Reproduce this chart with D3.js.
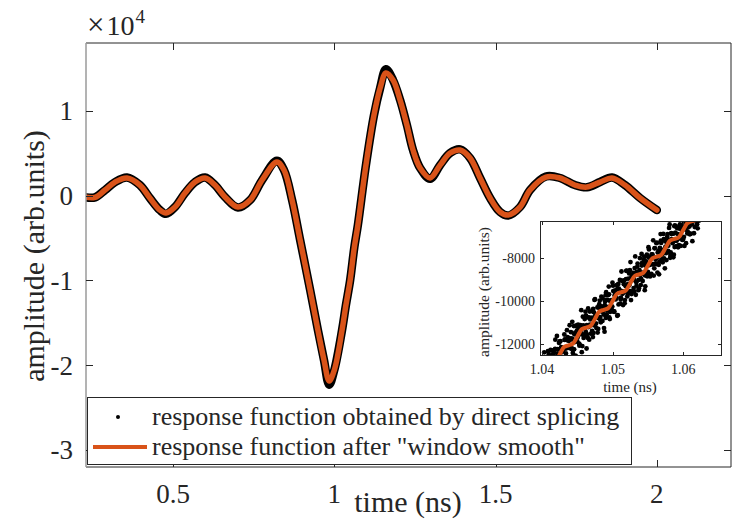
<!DOCTYPE html>
<html><head><meta charset="utf-8">
<script src="https://cdn.jsdelivr.net/npm/d3@7"></script>
<style>
html,body{margin:0;padding:0;background:#fff;}
svg text{font-family:"Liberation Serif","Times New Roman",serif;fill:#262626;}
</style></head>
<body><svg id="c" width="742" height="526"></svg>
<script>
// ---------- data ----------
const mainTimes = [0.230,0.258,0.289,0.320,0.357,0.397,0.428,0.459,0.478,0.506,0.537,0.568,0.599,0.630,0.661,0.701,0.739,0.776,0.822,0.844,0.869,0.894,0.925,0.949,0.968,0.984,1.000,1.024,1.036,1.049,1.062,1.073,1.098,1.123,1.142,1.160,1.182,1.204,1.225,1.244,1.266,1.297,1.328,1.359,1.390,1.421,1.452,1.483,1.514,1.539,1.576,1.607,1.656,1.700,1.746,1.783,1.824,1.861,1.901,1.948,2.000];
const smoothValues = [-200,-200,660,1600,2080,1250,-280,-1700,-2050,-1340,300,1600,2080,1250,-165,-1340,-520,1840,3960,3020,-520,-5240,-11130,-15850,-19390,-21860,-20560,-15850,-12900,-10000,-6100,-3470,3600,9500,12690,14460,13630,11270,8330,5380,3250,2080,3600,5020,5380,4430,2080,-280,-1930,-2290,-1340,660,2190,2080,1250,1010,1600,2080,1250,-280,-1700];
const rawValues = [-200,-200,660,1600,2150,1250,-280,-1700,-2150,-1340,300,1600,2150,1250,-165,-1400,-520,1840,4100,3020,-520,-5240,-11130,-15850,-19390,-22300,-20560,-15850,-12900,-10000,-6100,-3470,3600,9500,12690,14900,13630,11270,8330,5380,3250,2000,3600,5020,5450,4430,2080,-280,-1930,-2350,-1340,660,2250,2080,1250,980,1600,2150,1250,-280,-1700];

const mainXTicks = [0.5, 1, 1.5, 2];
const mainXTickLabels = ["0.5", "1", "1.5", "2"];
const mainYTicks = [10000, 0, -10000, -20000, -30000];
const mainYTickLabels = ["1", "0", "-1", "-2", "-3"];

const insetSmoothTimes = [1.040000,1.040625,1.041250,1.041875,1.042500,1.043125,1.043750,1.044375,1.045000,1.045625,1.046250,1.046875,1.047500,1.048125,1.048750,1.049375,1.050000,1.050625,1.051250,1.051875,1.052500,1.053125,1.053750,1.054375,1.055000,1.055625,1.056250,1.056875,1.057500,1.058125,1.058750,1.059375,1.060000,1.060625,1.061250,1.061875,1.062500];
const insetSmoothValues = [-13300,-12964,-12888,-12811,-12475,-12139,-12063,-11986,-11650,-11314,-11238,-11161,-10825,-10489,-10413,-10336,-10000,-9664,-9588,-9511,-9175,-8839,-8763,-8686,-8350,-8014,-7938,-7861,-7525,-7189,-7113,-7036,-6700,-6364,-6288,-6211,-5875];

// raw samples in the inset: three interleaved sampling passes
const insetDotStarts = [1.0400, 1.0400375, 1.040075];
const insetDotStep = 0.00015;
const insetDotValuesA = [
-12980,-13790,-12390,-13270,-12640,-13930,-12850,-13280,-12280,-12910,
-13530,-12370,-12670,-13110,-11630,-12770,-11950,-13100,-12150,-13290,
-12210,-11560,-12590,-12180,-11680,-12850,-11130,-12210,-11740,-12420,
-11170,-11910,-12580,-11370,-11100,-11990,-11460,-10430,-12100,-11140,
-11630,-10500,-12210,-10760,-11210,-10490,-11520,-10780,-11680,-10530,
-9920,-11050,-10710,-11300,-10150,-10750,-9800,-10930,-10310,-11430,
-9730,-10630,-9950,-9330,-10840,-10030,-10260,-9290,-10510,-9510,
-9870,-10690,-9210,-9480,-10120,-8630,-9670,-9080,-10110,-9310,
-8590,-9680,-9280,-8570,-9960,-8790,-8900,-9550,-7930,-9130,
-8400,-9500,-8570,-8790,-7810,-9070,-8190,-9500,-8360,-7840,
-8650,-7600,-8860,-7950,-8300,-7180,-8480,-7970,-7310,-8680,
-7660,-8160,-6890,-7770,-8200,-7130,-8480,-7180,-7350,-7670,
-6600,-7990,-6840,-7220,-7970,-6520,-6820,-7450,-5970,-7100,
-6500,-7440,-6710,-5920,-7020,-6470,-7310,-6000,-6550,-5740,
-6870,-6060,-7220,-5790,-6150,-5410,-6360,-6620,-5630,-5040,-6040];
const insetDotValuesC = [
-13080,-13570,-13100,-13620,-12720,-13190,-12470,-13200,-12850,-13430,
-12490,-12810,-12230,-13050,-12440,-13090,-12250,-11870,-12590,-12230,
-12680,-11810,-12220,-11820,-12700,-11860,-12120,-11450,-12210,-11790,
-12250,-11470,-11140,-11880,-11600,-12080,-11120,-11550,-11170,-11720,
-10840,-11430,-11130,-11720,-10760,-11100,-10810,-11390,-10370,-11140,
-10680,-11260,-10300,-10800,-10350,-10910,-10490,-9880,-10630,-10200,
-10790,-9950,-10280,-9690,-10510,-9960,-10270,-9540,-10490,-9650,
-9840,-9410,-10160,-9520,-9930,-9060,-9630,-9220,-9960,-8980,
-9510,-9210,-8720,-9540,-8900,-9570,-8690,-9030,-8750,-9290,
-8260,-9020,-8690,-9260,-8350,-8710,-8090,-8810,-8340,-8850,
-7960,-8300,-8030,-8740,-7830,-8290,-7550,-8070,-8290,-7750,
-8320,-7530,-7190,-7840,-7620,-8020,-7220,-7770,-7010,-7430,
-7160,-7860,-6890,-7310,-6870,-7490,-6530,-7190,-6890,-7400,
-6440,-7040,-6600,-7140,-6360,-6670,-6080,-6860,-6230,-6540,
-6880,-5940,-6280,-5960,-6560,-5550,-6230,-5920,-6260,-5490];
const insetDotValuesB = [
-13430,-12810,-13790,-12860,-13120,-12340,-13360,-12820,-13700,-12300,
-12720,-13200,-11800,-12920,-12240,-12660,-11880,-13150,-12180,-12360,
-12850,-11790,-12440,-11360,-12180,-11730,-12660,-11790,-10970,-12250,
-11550,-12540,-11170,-11700,-11220,-12030,-11360,-12380,-10730,-11550,
-11270,-10680,-11550,-10350,-11800,-10860,-11120,-10480,-11490,-9950,
-11060,-10670,-11470,-10250,-9980,-10990,-10250,-10470,-11260,-10020,
-9590,-10440,-9720,-10770,-10020,-10390,-9150,-10480,-9740,-9930,
-9260,-10660,-9430,-9020,-9850,-9540,-10190,-9040,-9560,-8600,
-9790,-8960,-9240,-8190,-9680,-8930,-9400,-8470,-9710,-8650,
-8760,-9410,-8010,-8970,-8230,-8680,-7940,-9320,-8160,-8790,
-7500,-8330,-8790,-7830,-7960,-8820,-7540,-8260,-7290,-7960,
-8760,-7570,-7300,-8050,-6880,-7770,-7490,-8100,-6890,-7710,
-6440,-7740,-7120,-7220,-7850,-6480,-7200,-6610,-7500,-6630,
-6930,-6100,-7160,-6510,-7440,-6120,-6530,-6760,-5610,-6900,
-6020,-6440,-5690,-6850,-5910,-5140,-6430,-5920,-6170,-5450];

const insetXTicks = [1.04, 1.05, 1.06];
const insetXTickLabels = ["1.04", "1.05", "1.06"];
const insetYTicks = [-8000, -10000, -12000];
const insetYTickLabels = ["-8000", "-10000", "-12000"];

const legendLabels = ["response function obtained by direct splicing", "response function after \"window smooth\""];
const orange = "#D95319";

// ---------- main chart ----------
const svg = d3.select("#c");
const M = {l:86, r:731, t:43, b:467};
const x = d3.scaleLinear().domain([0.23, 2.23]).range([M.l, M.r]);
const y = d3.scaleLinear().domain([-32000, 18000]).range([M.b, M.t]);

svg.append("clipPath").attr("id","mclip").append("rect")
  .attr("x",M.l).attr("y",M.t).attr("width",M.r-M.l).attr("height",M.b-M.t);

const rawData = mainTimes.map((t,i)=>[t, rawValues[i]]);
const smData = mainTimes.map((t,i)=>[t, smoothValues[i]]);
const lineM = d3.line().x(d=>x(d[0])).y(d=>y(d[1])).curve(d3.curveCatmullRom.alpha(0.5));

const g = svg.append("g").attr("clip-path","url(#mclip)");
g.append("path").attr("d", lineM(rawData)).attr("fill","none").attr("stroke","#000").attr("stroke-width",8.5).attr("stroke-linejoin","round").attr("stroke-linecap","round");
g.append("path").attr("d", lineM(smData)).attr("fill","none").attr("stroke",orange).attr("stroke-width",5.5).attr("stroke-linejoin","round").attr("stroke-linecap","round");

// axes (MATLAB box style, ticks inward)
const axC = "#262626";
const tl = 7;
const axG = svg.append("g");
axG.append("line").attr("x1",M.l).attr("x2",M.r).attr("y1",M.b).attr("y2",M.b).attr("stroke",axC);
axG.append("line").attr("x1",M.l).attr("x2",M.r).attr("y1",M.t).attr("y2",M.t).attr("stroke",axC);
axG.append("line").attr("x1",M.r).attr("x2",M.r).attr("y1",M.t).attr("y2",M.b).attr("stroke",axC);
axG.append("line").attr("x1",M.l).attr("x2",M.l).attr("y1",M.t).attr("y2",M.b).attr("stroke","#9a9a9a").attr("stroke-width",1.5);
mainXTicks.forEach((v,i)=>{
  const px = Math.round(x(v))+0.5;
  axG.append("line").attr("x1",px).attr("x2",px).attr("y1",M.b).attr("y2",M.b-tl).attr("stroke",axC);
  axG.append("line").attr("x1",px).attr("x2",px).attr("y1",M.t).attr("y2",M.t+tl).attr("stroke",axC);
  axG.append("text").attr("x",x(v)).attr("y",503).attr("text-anchor","middle").attr("font-size",27).text(mainXTickLabels[i]);
});
mainYTicks.forEach((v,i)=>{
  const py = Math.round(y(v))+0.5;
  axG.append("line").attr("x1",M.l).attr("x2",M.l+tl).attr("y1",py).attr("y2",py).attr("stroke",axC);
  axG.append("line").attr("x1",M.r).attr("x2",M.r-tl).attr("y1",py).attr("y2",py).attr("stroke",axC);
  axG.append("text").attr("x",73).attr("y",y(v)).attr("dy","0.35em").attr("text-anchor","end").attr("font-size",27).text(mainYTickLabels[i]);
});
// exponent
const ex = svg.append("text").attr("x",87).attr("y",35).attr("font-size",28);
ex.append("tspan").attr("font-size",31).text("\u00d7");
ex.append("tspan").attr("dx",2).text("10");
ex.append("tspan").attr("font-size",19).attr("dx",1).attr("dy",-12).text("4");
// axis labels
svg.append("text").attr("x",408).attr("y",512).attr("text-anchor","middle").attr("font-size",30).text("time (ns)");
svg.append("text").attr("transform","translate(33,256) rotate(-90)").attr("text-anchor","middle").attr("dy","0.35em").attr("font-size",30).text("amplitude (arb.units)");

// ---------- inset ----------
const I = {l:540, r:722, t:221, b:356};
const xi = d3.scaleLinear().domain([1.0397, 1.0655]).range([I.l, I.r]);
const yi = d3.scaleLinear().domain([-12560, -6280]).range([I.b, I.t]);
svg.append("rect").attr("x",I.l).attr("y",I.t).attr("width",I.r-I.l).attr("height",I.b-I.t).attr("fill","#fff");
svg.append("clipPath").attr("id","iclip").append("rect")
  .attr("x",I.l).attr("y",I.t).attr("width",I.r-I.l).attr("height",I.b-I.t);
const gi = svg.append("g").attr("clip-path","url(#iclip)");
const dots = [insetDotValuesA, insetDotValuesC, insetDotValuesB]
  .flatMap((arr,k)=>arr.map((v,i)=>[insetDotStarts[k] + i*insetDotStep, v]));
gi.selectAll("circle").data(dots).join("circle")
  .attr("cx",d=>xi(d[0])).attr("cy",d=>yi(d[1])).attr("r",2.4).attr("fill","#000");
const lineI = d3.line().x(d=>xi(d[0])).y(d=>yi(d[1])).curve(d3.curveMonotoneX);
gi.append("path").attr("d", lineI(insetSmoothTimes.map((t,i)=>[t, insetSmoothValues[i]])))
  .attr("fill","none").attr("stroke",orange).attr("stroke-width",4);
const ia = svg.append("g");
ia.append("rect").attr("x",I.l+0.5).attr("y",I.t+0.5).attr("width",I.r-I.l-1).attr("height",I.b-I.t-1).attr("fill","none").attr("stroke",axC);
const itl = 4;
insetXTicks.forEach((v,i)=>{
  const px = Math.round(xi(v))+0.5;
  ia.append("line").attr("x1",px).attr("x2",px).attr("y1",I.b).attr("y2",I.b-itl).attr("stroke",axC);
  ia.append("line").attr("x1",px).attr("x2",px).attr("y1",I.t).attr("y2",I.t+itl).attr("stroke",axC);
  ia.append("text").attr("x",xi(v)).attr("y",374).attr("text-anchor","middle").attr("font-size",14).text(insetXTickLabels[i]);
});
insetYTicks.forEach((v,i)=>{
  const py = Math.round(yi(v))+0.5;
  ia.append("line").attr("x1",I.l).attr("x2",I.l+itl).attr("y1",py).attr("y2",py).attr("stroke",axC);
  ia.append("line").attr("x1",I.r).attr("x2",I.r-itl).attr("y1",py).attr("y2",py).attr("stroke",axC);
  ia.append("text").attr("x",535).attr("y",yi(v)).attr("dy","0.35em").attr("text-anchor","end").attr("font-size",14).text(insetYTickLabels[i]);
});
svg.append("text").attr("x",630).attr("y",392).attr("text-anchor","middle").attr("font-size",15).text("time (ns)");
svg.append("text").attr("transform","translate(484,292) rotate(-90)").attr("text-anchor","middle").attr("dy","0.35em").attr("font-size",15.5).text("amplitude (arb.units)");

// ---------- legend ----------
const L = {l:87, r:632, t:397, b:465};
const lg = svg.append("g");
lg.append("rect").attr("x",L.l+0.5).attr("y",L.t+0.5).attr("width",L.r-L.l-1).attr("height",L.b-L.t-1).attr("fill","#fff").attr("stroke",axC);
lg.append("circle").attr("cx",118).attr("cy",417).attr("r",2).attr("fill","#000");
lg.append("line").attr("x1",93).attr("x2",147).attr("y1",447).attr("y2",447).attr("stroke",orange).attr("stroke-width",4);
lg.append("text").attr("x",152).attr("y",425).attr("font-size",26).text(legendLabels[0]);
lg.append("text").attr("x",152).attr("y",455).attr("font-size",26).text(legendLabels[1]);
</script></body></html>
